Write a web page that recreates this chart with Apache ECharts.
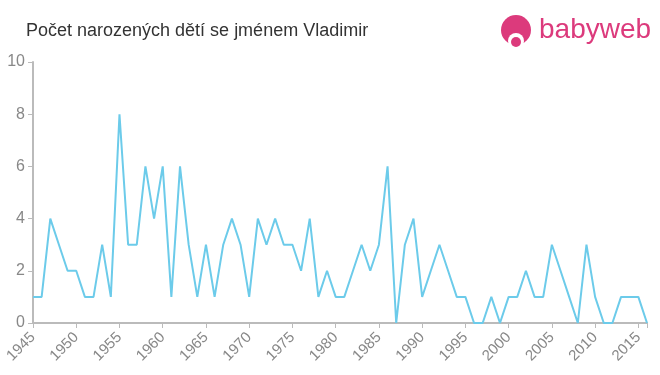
<!DOCTYPE html>
<html>
<head>
<meta charset="utf-8">
<script src="https://cdn.jsdelivr.net/npm/echarts@6/dist/echarts.min.js"></script>
<style>html,body{margin:0;padding:0;background:#fff}#c{width:660px;height:375px}</style>
</head>
<body>
<div id="c"></div>
<script>
var years = [];
for (var y = 1945; y <= 2016; y++) years.push(y);
var counts = [1,1,4,3,2,2,1,1,3,1,
  8,3,3,6,4,6,1,6,3,1,
  3,1,3,4,3,1,4,3,4,3,
  3,2,4,1,2,1,1,2,3,2,
  3,6,0,3,4,1,2,3,2,1,
  1,0,0,1,0,1,1,2,1,1,
  3,2,1,0,3,1,0,0,1,1,
  1,0];
var title = 'Počet narozených dětí se jménem Vladimir';

var chart = echarts.init(document.getElementById('c'));
chart.setOption({
  animation: false,
  grid: {left: 33, right: 13, top: 62, bottom: 52},
  title: {text: title, left: 21, top: 17, textStyle: {fontFamily: 'Liberation Sans, Arial', fontSize: 18, fontWeight: 'normal', color: '#333'}},
  graphic: [
    {type: 'circle', shape: {cx: 516, cy: 30, r: 15}, style: {fill: '#dc3a7c'}},
    {type: 'circle', shape: {cx: 516, cy: 41, r: 8}, style: {fill: '#fff'}},
    {type: 'circle', shape: {cx: 516, cy: 42, r: 5}, style: {fill: '#dc3a7c'}},
    {type: 'text', left: 539, top: 16, style: {text: 'babyweb', fontFamily: 'Liberation Sans, Arial', fontSize: 28, fill: '#dc3a7c'}}
  ],
  xAxis: {
    type: 'value', min: 1945, max: 2016, interval: 5,
    axisLine: {lineStyle: {color: '#bbb', width: 2}},
    axisTick: {show: true, length: 5, lineStyle: {color: '#bbb'}},
    splitLine: {show: false},
    axisLabel: {rotate: 45, color: '#888', fontSize: 15, fontFamily: 'Liberation Sans, Arial', margin: 12,
      formatter: function (v) { return v % 5 === 0 && v <= 2015 ? String(v) : ''; }}
  },
  yAxis: {
    type: 'value', min: 0, max: 10, interval: 2,
    axisLine: {show: true, lineStyle: {color: '#bbb', width: 2}},
    axisTick: {show: true, length: 5, lineStyle: {color: '#bbb'}},
    splitLine: {show: false},
    axisLabel: {color: '#888', fontSize: 16, fontFamily: 'Liberation Sans, Arial', margin: 8}
  },
  series: [{
    type: 'line',
    data: years.map(function (y, i) { return [y, counts[i]]; }),
    symbol: 'none',
    lineStyle: {color: '#6ccbea', width: 2}
  }]
});
</script>
</body>
</html>
